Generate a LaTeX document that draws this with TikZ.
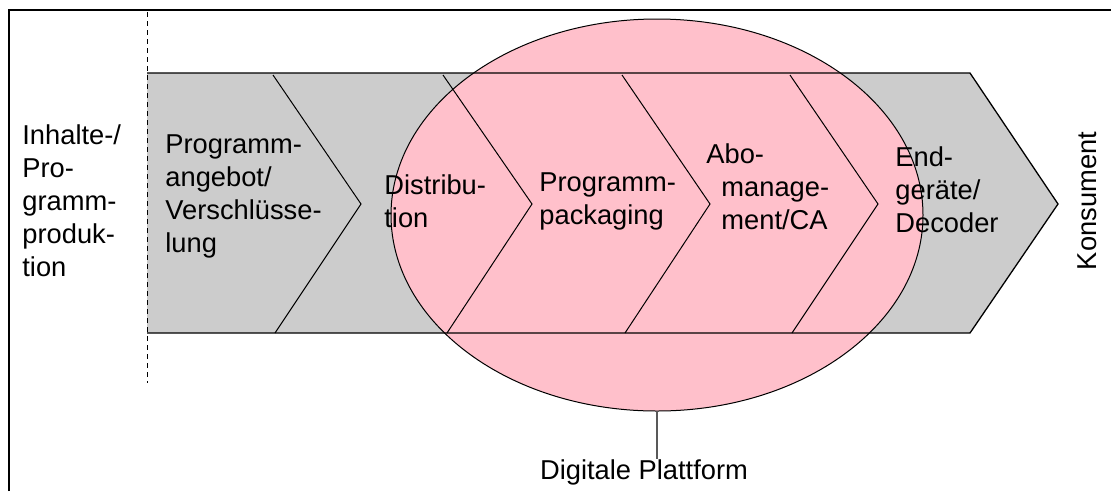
\documentclass[tikz,border=0pt]{standalone}
\usepackage{fontspec}
\setmainfont{Liberation Sans}
\usetikzlibrary{shapes.geometric}

\definecolor{bandgray}{RGB}{204,204,204}
\definecolor{platformpink}{RGB}{255,192,203}

\begin{document}
\begin{tikzpicture}[x=1pt,y=-1pt,thick,
        stage/.style={anchor=west,inner sep=0pt,align=left,font=\fontsize{27.3}{33}\selectfont},
        platform/.style={ellipse,draw,line width=1pt,fill=platformpink,inner sep=0pt,minimum width=532pt,minimum height=392pt},
        chevron/.style={line width=1pt}]
            \useasboundingbox (0,0) rectangle (1111,491);

            % frame, only left and top edge
            \draw[line width=2.5pt] (9,491) -- (9,10) -- (1111,10);

            % value chain band
            \fill[bandgray] (147,73) -- (970,73) -- (1058,204) -- (970,333) -- (147,333) -- cycle;

            \node[platform] (5) at (657,215) {};

            \draw[chevron] (273,75) -- (361,204) -- (275,333);
            \draw[chevron] (443,75) -- (532,204) -- (447,333);
            \draw[chevron] (622,75) -- (710,204) -- (625,333);
            \draw[chevron] (790,75) -- (878,204) -- (792,333);
            \draw[line width=1.3pt] (147,73) -- (970,73) -- (1058,204) -- (970,333) -- (147,333);

            \draw[line width=1pt,dash pattern=on 5pt off 4pt] (147,12) -- (147,383);

            \node[stage] (0) at (22,201) {Inhalte-/\\Pro-\\gramm-\\produk-\\tion};
            \node[stage] (1) at (165,196) {Programm-\\angebot/\\Verschlüsse-\\lung};
            \node[stage] (2) at (384,201) {Distribu-\\tion};
            \node[stage] (3) at (539,201) {Programm-\\packaging};
            \node[stage] (4) at (706,187) {Abo-\\\hspace*{15pt}manage-\\\hspace*{15pt}ment/CA};
            \node[stage] (6) at (895,190) {End-\\geräte/\\Decoder};

            \node[inner sep=0pt,rotate=90,font=\fontsize{27.3}{33}\selectfont] (7) at (1087,201) {Konsument};

            \node[inner sep=0pt,font=\fontsize{27.3}{33}\selectfont] (9) at (644,472) {Digitale Plattform};

            \draw[line width=1.3pt,black!65] (5.south) -- (5.south |- 9.north);
        \end{tikzpicture}
\end{document}
